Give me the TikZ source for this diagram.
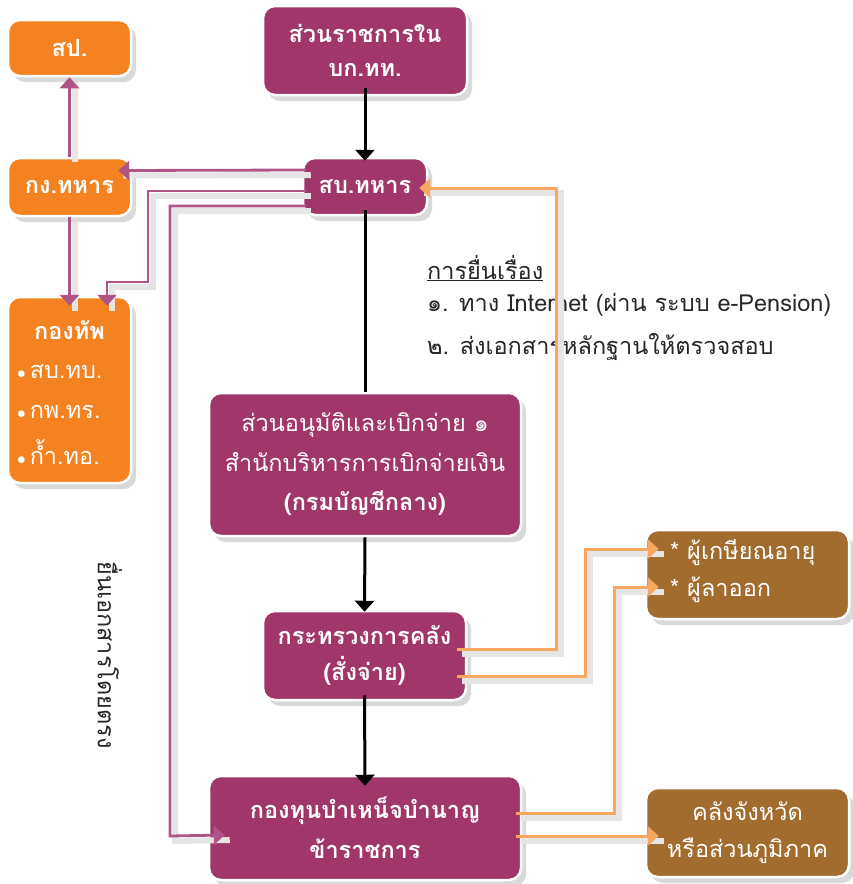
\documentclass[tikz,border=0pt]{standalone}
\usepackage{fontspec}
\setmainfont[Script=Thai]{Loma}
\usetikzlibrary{arrows.meta,calc,shadows}
\definecolor{pbox}{RGB}{160,54,105}
\definecolor{obox}{RGB}{244,130,32}
\definecolor{bbox}{RGB}{161,108,46}
\definecolor{pline}{RGB}{176,84,136}
\definecolor{oline}{RGB}{248,166,96}
\tikzset{
  basebox/.style={rounded corners=12pt, draw=white, line width=2.5pt, text=white, align=center, inner sep=0pt,
    font=\fontsize{23.5}{38}\selectfont,
    drop shadow={shadow xshift=5pt,shadow yshift=-6pt,opacity=0.3}},
  pbx/.style={basebox, fill=pbox},
  obx/.style={basebox, fill=obox},
  bbx/.style={basebox, fill=bbox},
  wtext/.style={text=white, inner sep=0pt, font=\fontsize{23.5}{38}\selectfont},
  btext/.style={text=black!85, inner sep=0pt, font=\fontsize{23.5}{38}\selectfont},
  cshadow/.style={preaction={draw=black!10, line width=6pt, -, transform canvas={shift={(5pt,-5pt)}}}},
  tip/.style={-{Triangle[width=19pt,length=11pt]}},
  karrow/.style={draw=black, line width=3pt, tip},
  kline/.style={draw=black, line width=3pt},
  parrow/.style={cshadow, draw=pline, line width=2.8pt, tip},
  oarrow/.style={cshadow, draw=oline, line width=3pt, tip},
}
\newcommand{\bul}{{\fontsize{17}{17}\selectfont$\bullet$}\,}
\begin{document}
\begin{tikzpicture}[x=1pt,y=-1pt]
\useasboundingbox (0,0) rectangle (852,884);

% boxes
\node[obx, minimum width=123pt, minimum height=56pt] (sp) at (69.5,48) {\bfseries สป.};
\node[pbx, minimum width=204pt, minimum height=89pt, font=\fontsize{23.5}{34}\selectfont] (rb) at (365,50.5) {\bfseries ส่วนราชการใน\\\bfseries บก.ทท.};
\node[obx, minimum width=123pt, minimum height=58pt] (kt) at (69.5,187) {\bfseries กง.ทหาร};
\node[pbx, minimum width=124pt, minimum height=57pt] (sb) at (365,186.5) {\bfseries สบ.ทหาร};
\node[obx, minimum width=123pt, minimum height=186pt] (ka) at (69.5,390) {};
\node[pbx, minimum width=312pt, minimum height=143pt, font=\fontsize{23.5}{39.5}\selectfont] (an) at (365,464.5) {ส่วนอนุมัติและเบิกจ่าย ๑\\สำนักบริหารการเบิกจ่ายเงิน\\{\bfseries (กรมบัญชีกลาง)}};
\node[pbx, minimum width=203pt, minimum height=89pt, font=\fontsize{23.5}{36}\selectfont] (mf) at (364.5,655.5) {\bfseries กระทรวงการคลัง\\\bfseries (สั่งจ่าย)};
\node[pbx, minimum width=312pt, minimum height=104pt, font=\fontsize{23.5}{40}\selectfont] (gt) at (365,828) {\bfseries กองทุนบำเหน็จบำนาญ\\\bfseries ข้าราชการ};
\node[bbx, minimum width=203pt, minimum height=89pt] (rt) at (747.5,574.5) {};
\node[bbx, minimum width=203pt, minimum height=89pt, font=\fontsize{23.5}{37}\selectfont] (kl) at (747.5,832.5) {คลังจังหวัด\\หรือส่วนภูมิภาค};

% texts inside boxes
\node[wtext] (kah) at (69.5,330) {\bfseries กองทัพ};
\node[wtext, anchor=west] (ka1) at (17,372) {\bul สบ.ทบ.};
\node[wtext, anchor=west] (ka2) at (17,412) {\bul กพ.ทร.};
\node[wtext, anchor=west] (ka3) at (17,452) {\bul ก้ำ.ทอ.};
\node[wtext, anchor=west] (rt1) at (670,553) {* ผู้เกษียณอายุ};
\node[wtext, anchor=west] (rt2) at (670,590) {* ผู้ลาออก};

% free texts
\node[btext, anchor=west] (h0) at (427,268) {\underline{การยื่นเรื่อง}};
\node[btext, anchor=west] (h1) at (427,305) {๑. ทาง Internet (ผ่าน ระบบ e-Pension)};
\node[btext, anchor=west] (h2) at (427,347) {๒. ส่งเอกสารหลักฐานให้ตรวจสอบ};
\node[btext, rotate=-90] (vt) at (110,655) {ยื่นเอกสารโดยตรง};

% bend points
\coordinate (p1) at (148,282);
\coordinate (p2) at (170,836);
\coordinate (o1) at (556,188);
\coordinate (o2) at (585,549);
\coordinate (o3) at (614,587);

% black connectors
\draw[karrow] ($(rb.south)+(0,-8)$) -- ($(sb.north)+(0,4)$);
\draw[kline] ($(sb.south)+(0,-6)$) -- (an.north);
\draw[karrow] (an.south) -- ($(mf.north)+(0,2)$);
\draw[karrow] ($(mf.south)+(0,-6)$) -- ($(gt.north)+(0,11)$);

% purple connectors
\draw[parrow] (kt.north) -- (sp.south);
\draw[parrow] ($(sb.west)+(4,-16.5)$) -- ($(kt.east)+(-14,-16.5)$);
\draw[parrow] ($(sb.west)+(4,4.5)$) -| (p1) -| ($(ka.north)+(37.5,10)$);
\draw[parrow] (kt.south) -- ($(ka.north)+(0,10)$);
\draw[parrow] ($(sb.west)+(4,19.5)$) -| (p2) -- ($(gt.west)+(17,7)$);

% orange connectors
\draw[oarrow] ($(mf.east)+(-10,-6.5)$) -| (o1) -- ($(sb.east)+(-9,1.5)$);
\draw[oarrow] ($(mf.east)+(-10,20.5)$) -| (o2) -- ($(rt.west)+(14,-25.5)$);
\draw[oarrow] ($(gt.east)+(-6,-15)$) -| (o3) -- ($(rt.west)+(14,12.5)$);
\draw[oarrow] ($(gt.east)+(-6,8)$) -- ($(kl.west)+(14,3.5)$);
\end{tikzpicture}
\end{document}
